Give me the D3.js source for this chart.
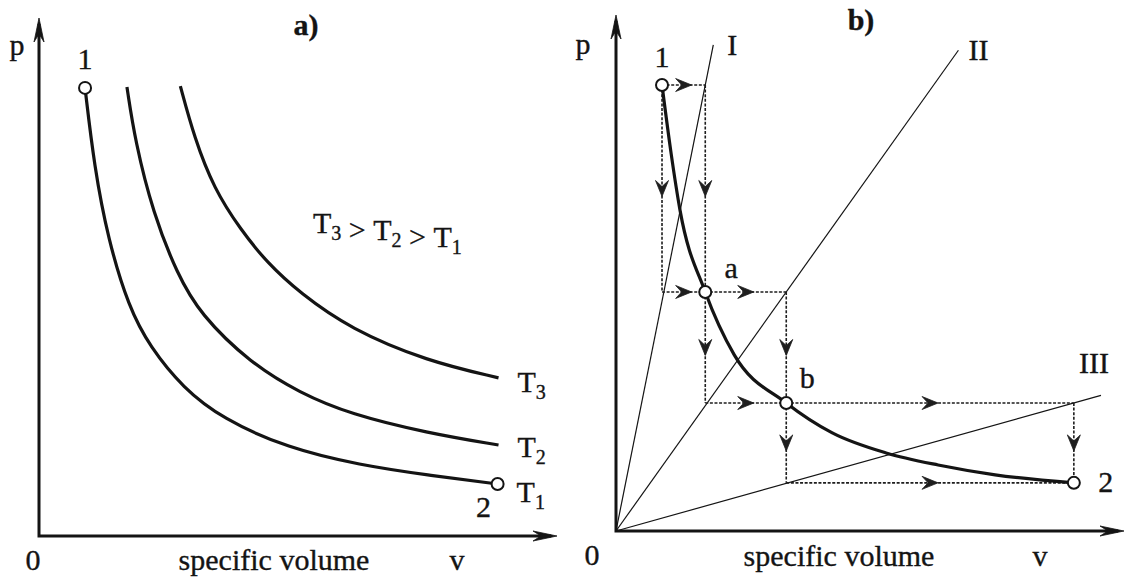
<!DOCTYPE html>
<html>
<head>
<meta charset="utf-8">
<script src="https://cdn.jsdelivr.net/npm/d3@7"></script>
<style>
  html, body { margin: 0; padding: 0; background: #ffffff; }
  svg { display: block; }
  .lbl { fill: #141414; stroke: #141414; stroke-width: 0.35px; font-size: 30px; font-family: "Liberation Serif", "Times New Roman", serif; }
</style>
</head>
<body>
<svg id="chart" width="1129" height="581"></svg>
<script>
// ---- Panel a: three isotherms in the p–v plane, sampled as [v, p]
const isothermNames = ["T1", "T2", "T3"];
const isothermT1 = [[1.00, 10.00], [1.20, 8.25], [1.50, 6.62], [1.95, 5.10], [2.41, 4.22], [3.13, 3.30], [3.98, 2.62], [5.40, 1.96], [6.98, 1.58], [8.43, 1.36], [9.96, 1.16]];
const isothermT2 = [[1.91, 10.02], [2.09, 8.80], [2.48, 7.20], [3.00, 5.85], [3.50, 4.95], [4.59, 3.86], [5.67, 3.19], [6.76, 2.72], [8.43, 2.30], [9.98, 2.03]];
const isothermT3 = [[3.07, 10.04], [3.37, 8.90], [3.80, 7.75], [4.37, 6.85], [4.96, 6.09], [5.67, 5.42], [6.76, 4.62], [8.43, 3.90], [9.98, 3.53]];

// ---- Panel b: stepwise expansion 1 → a → b → 2 along one isotherm
const stateNames = ["1", "a", "b", "2"];
const stateV = [1.00, 1.94, 3.70, 9.95];
const stateP = [10.00, 5.36, 2.87, 1.08];
const isothermV = [1.00, 1.20, 1.39, 1.94, 2.57, 3.70, 4.70, 5.87, 7.00, 8.24, 9.95];
const isothermP = [10.00, 8.45, 7.20, 5.36, 3.95, 2.87, 2.20, 1.75, 1.48, 1.26, 1.08];
const rayNames = ["I", "II", "III"];
const rayEndP = [10.90, 10.78, 3.04];

const svg = d3.select("#chart");
const ink = "#141414";

// scales for each panel (origin at the axis corner)
const xA = d3.scaleLinear().domain([0, 11.25]).range([39, 557]);
const yA = d3.scaleLinear().domain([0, 11.56]).range([536, 18]);
const xB = d3.scaleLinear().domain([0, 11.04]).range([616, 1124]);
const yB = d3.scaleLinear().domain([0, 11.57]).range([531, 15]);

// notched arrowhead, tip at (x, y), pointing along angle (degrees)
function arrowHead(g, x, y, angle, len, hw, notch, color) {
  g.append("path")
    .attr("d", `M0,0 L${-len},${-hw} L${-len + notch},0 L${-len},${hw} Z`)
    .attr("transform", `translate(${x},${y}) rotate(${angle})`)
    .attr("fill", color)
    .attr("stroke", color)
    .attr("stroke-width", 0.8)
    .attr("stroke-linejoin", "miter");
}

function axes(g, x, y) {
  const [x0, x1] = x.range();
  const [y0, y1] = y.range();
  g.append("path")
    .attr("d", `M${x0},${y1 + 6} L${x0},${y0} L${x1 - 6},${y0}`)
    .attr("fill", "none").attr("stroke", ink).attr("stroke-width", 3);
  arrowHead(g, x0, y1, -90, 24, 5, 8, ink);
  arrowHead(g, x1, y0, 0, 24, 5, 8, ink);
}

function text(g, x, y, opts = {}) {
  const t = g.append("text").attr("class", "lbl")
    .attr("x", x).attr("y", y)
    .attr("text-anchor", opts.anchor || "middle");
  if (opts.weight) t.style("font-weight", opts.weight);
  return t;
}

function label(g, str, x, y, opts) {
  return text(g, x, y, opts).text(str);
}

// "T" followed by a lowered index
function addT(t, idx) {
  t.append("tspan").text("T");
  t.append("tspan").attr("dy", 7).style("font-size", "20px").text(idx);
  t.append("tspan").attr("dy", -7).text("");
}

// ================= Panel a =================
const gA = svg.append("g");
axes(gA, xA, yA);

const lineA = d3.line().x(d => xA(d[0])).y(d => yA(d[1])).curve(d3.curveBasis);
const isotherms = [isothermT1, isothermT2, isothermT3];
const tNudge = [-3, -9, -7];
isotherms.forEach((pts, i) => {
  gA.append("path").attr("d", lineA(pts))
    .attr("fill", "none").attr("stroke", ink).attr("stroke-width", 3.2);
  const last = pts[pts.length - 1];
  const t = text(gA, xA(last[0]) + 19, yA(last[1]) + 21 + tNudge[i], { anchor: "start" });
  addT(t, isothermNames[i].slice(1));
});

// end points of the T1 isotherm
const endsT1 = [isothermT1[0], isothermT1[isothermT1.length - 1]];
endsT1.forEach(d => {
  gA.append("circle").attr("cx", xA(d[0])).attr("cy", yA(d[1])).attr("r", 6)
    .attr("fill", "#fff").attr("stroke", ink).attr("stroke-width", 2);
});
label(gA, "1", xA(endsT1[0][0]), yA(endsT1[0][1]) - 19);
label(gA, "2", xA(endsT1[1][0]) - 14, yA(endsT1[1][1]) + 33);

// ordering of the temperatures
{
  const t = text(gA, 313, 233, { anchor: "start" });
  ["3", "2", "1"].forEach((idx, k) => {
    addT(t, idx);
    if (k < 2) t.append("tspan").text("\u00a0>\u00a0");
  });
}

label(gA, "a)", 306, 35, { weight: "bold" });
label(gA, "p", 17, 55);
label(gA, "0", 33, 570);
label(gA, "specific volume", 274, 570);
label(gA, "v", 457, 570);

// ================= Panel b =================
const gB = svg.append("g");
axes(gB, xB, yB);

// rays from the origin through each upper construction corner
rayNames.forEach((name, i) => {
  const cv = stateV[i + 1], cp = stateP[i];
  const endP = rayEndP[i];
  const endV = cv * endP / cp;
  gB.append("line")
    .attr("x1", xB(0)).attr("y1", yB(0))
    .attr("x2", xB(endV)).attr("y2", yB(endP))
    .attr("stroke", ink).attr("stroke-width", 1.2);
  if (i < 2) label(gB, name, xB(endV) + 19 + (i === 1 ? 1 : 0), yB(endP) + 10);
  else label(gB, name, xB(endV) - 7, yB(endP) - 22);
});

// dotted construction steps between successive states
const steps = [];
for (let i = 0; i < stateV.length - 1; i++) {
  const v0 = stateV[i], p0 = stateP[i], v1 = stateV[i + 1], p1 = stateP[i + 1];
  steps.push({ a: [v0, p0], b: [v1, p0] });
  steps.push({ a: [v1, p0], b: [v1, p1] });
  steps.push({ a: [v0, p0], b: [v0, p1] });
  steps.push({ a: [v0, p1], b: [v1, p1] });
}
steps.forEach(s => {
  const x1 = xB(s.a[0]), y1 = yB(s.a[1]), x2 = xB(s.b[0]), y2 = yB(s.b[1]);
  gB.append("line")
    .attr("x1", x1).attr("y1", y1).attr("x2", x2).attr("y2", y2)
    .attr("stroke", "#1e1e1e").attr("stroke-width", 1.6)
    .attr("stroke-dasharray", "3,1.6");
  const ang = Math.atan2(y2 - y1, x2 - x1);
  const len = 16;
  const mx = (x1 + x2) / 2 + Math.cos(ang) * len / 2;
  const my = (y1 + y2) / 2 + Math.sin(ang) * len / 2;
  arrowHead(gB, mx, my, ang * 180 / Math.PI, len, 6.5, 6, "#1e1e1e");
});

// the isotherm through the states
const lineB = d3.line().x((d, i) => xB(isothermV[i])).y((d, i) => yB(isothermP[i])).curve(d3.curveMonotoneX);
gB.append("path").attr("d", lineB(isothermV))
  .attr("fill", "none").attr("stroke", ink).attr("stroke-width", 3.2);

// state markers and names
const nameOffset = [[0, -18], [26, -14], [21, -15], [32, 9]];
stateNames.forEach((n, i) => {
  gB.append("circle").attr("cx", xB(stateV[i])).attr("cy", yB(stateP[i])).attr("r", 6)
    .attr("fill", "#fff").attr("stroke", ink).attr("stroke-width", 2);
  label(gB, n, xB(stateV[i]) + nameOffset[i][0], yB(stateP[i]) + nameOffset[i][1]);
});

label(gB, "b)", 861, 30, { weight: "bold" });
label(gB, "p", 583, 54);
label(gB, "0", 592, 565);
label(gB, "specific volume", 839, 566);
label(gB, "v", 1040, 566);
</script>
</body>
</html>
